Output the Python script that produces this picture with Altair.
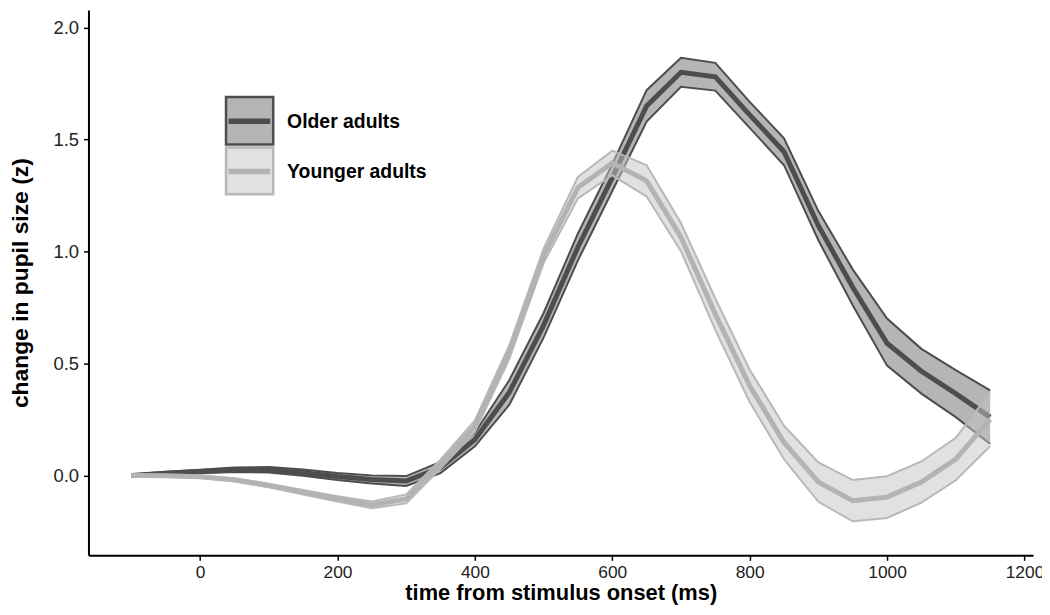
import altair as alt
import pandas as pd

# ---- data ----
time_ms = [-100, -50, 0, 50, 100, 150, 200, 250, 300, 350, 400, 450, 500,
           550, 600, 650, 700, 750, 800, 850, 900, 950, 1000, 1050, 1100, 1150]

older_mean = [0.000, 0.010, 0.017, 0.025, 0.025, 0.012, -0.005, -0.018, -0.025, 0.035,
              0.160, 0.370, 0.670, 1.020, 1.330, 1.650, 1.800, 1.780, 1.610, 1.445,
              1.115, 0.840, 0.590, 0.465, 0.365, 0.260]
older_upper = [0.004, 0.016, 0.025, 0.035, 0.037, 0.026, 0.011, 0.000, -0.003, 0.060,
               0.190, 0.425, 0.725, 1.080, 1.390, 1.720, 1.865, 1.842, 1.668, 1.505,
               1.180, 0.920, 0.700, 0.565, 0.470, 0.380]
older_lower = [-0.004, 0.004, 0.009, 0.015, 0.013, -0.002, -0.021, -0.036, -0.047, 0.010,
               0.130, 0.315, 0.615, 0.960, 1.270, 1.580, 1.735, 1.718, 1.552, 1.385,
               1.050, 0.760, 0.490, 0.365, 0.260, 0.140]

younger_mean = [0.000, -0.002, -0.006, -0.020, -0.045, -0.075, -0.105, -0.132, -0.105, 0.050,
                0.220, 0.550, 0.980, 1.285, 1.395, 1.315, 1.064, 0.720, 0.400, 0.147,
                -0.030, -0.113, -0.097, -0.030, 0.073, 0.250]
younger_upper = [0.003, 0.002, -0.001, -0.013, -0.037, -0.065, -0.093, -0.117, -0.085, 0.070,
                 0.245, 0.580, 1.012, 1.333, 1.450, 1.385, 1.127, 0.790, 0.472, 0.222,
                 0.058, -0.021, -0.004, 0.062, 0.168, 0.370]
younger_lower = [-0.003, -0.006, -0.011, -0.027, -0.053, -0.085, -0.117, -0.147, -0.125, 0.030,
                 0.195, 0.520, 0.948, 1.237, 1.340, 1.245, 1.001, 0.650, 0.328, 0.072,
                 -0.118, -0.205, -0.190, -0.122, -0.022, 0.130]

group_labels = ["Older adults", "Younger adults"]
x_ticks = [0, 200, 400, 600, 800, 1000, 1200]
y_ticks = [0.0, 0.5, 1.0, 1.5, 2.0]

FONT = "Liberation Sans"

older_df = pd.DataFrame({"t": time_ms, "m": older_mean, "lo": older_lower, "hi": older_upper})
younger_df = pd.DataFrame({"t": time_ms, "m": younger_mean, "lo": younger_lower, "hi": younger_upper})

xs = alt.Scale(domain=[-162.5, 1212.5], nice=False, zero=False)
ys = alt.Scale(domain=[-0.357, 2.078], nice=False, zero=False)

X = alt.X("t:Q", scale=xs, title="time from stimulus onset (ms)",
          axis=alt.Axis(values=x_ticks, format="d"))
Y = alt.Y("lo:Q", scale=ys, title="change in pupil size (z)",
          axis=alt.Axis(values=y_ticks, format=".1f"))


def group_layers(df, fill, fill_opacity, edge, line_color):
    base = alt.Chart(df)
    band = base.mark_area(fill=fill, fillOpacity=fill_opacity, strokeWidth=0).encode(
        x=X, y=Y, y2="hi:Q")
    lo_edge = base.mark_line(color=edge, strokeWidth=2).encode(x=X, y=alt.Y("lo:Q", scale=ys))
    hi_edge = base.mark_line(color=edge, strokeWidth=2).encode(x=X, y=alt.Y("hi:Q", scale=ys))
    mean = base.mark_line(color=line_color, strokeWidth=5).encode(x=X, y=alt.Y("m:Q", scale=ys))
    return [band, lo_edge, hi_edge, mean]


layers = []
layers += group_layers(older_df, "#b5b5b5", 1.0, "#4d4d4d", "#4d4d4d")
layers += group_layers(younger_df, "#c4c4c4", 0.5, "#b8b8b8", "#b3b3b3")

# ---- legend (drawn manually, inside plot area) ----
leg_df = pd.DataFrame({"label": group_labels})
leg_specs = [
    # label, box top, box bottom, line y, fill, fill opacity, edge, line color
    (group_labels[0], 87.5, 135.5, 112, "#b5b5b5", 1.0, "#4d4d4d", "#4d4d4d"),
    (group_labels[1], 138.5, 185.5, 162.5, "#c4c4c4", 0.5, "#b8b8b8", "#b3b3b3"),
]
for label, top, bot, ly, fill, fop, edge, lc in leg_specs:
    src = alt.Chart(leg_df).transform_filter(alt.datum.label == label)
    layers.append(src.mark_rect(fill=fill, fillOpacity=fop, stroke=edge, strokeWidth=2.5).encode(
        x=alt.value(138.5), x2=alt.value(186), y=alt.value(top), y2=alt.value(bot)))
    layers.append(src.mark_rule(color=lc, strokeWidth=5.5).encode(
        x=alt.value(141), x2=alt.value(183), y=alt.value(ly)))
    layers.append(src.mark_text(align="left", baseline="middle", font=FONT, fontSize=19.5,
                                fontWeight="bold", color="#000000").encode(
        x=alt.value(200), y=alt.value(ly + 1), text="label:N"))

chart = alt.layer(*layers).properties(
    width=951, height=549,
    autosize=alt.AutoSizeParams(type="none"),
    padding={"left": 81, "top": 0, "right": 9, "bottom": 50},
    background="white",
).configure_view(stroke=None).configure_axis(
    grid=False,
    domainColor="#000000", domainWidth=2,
    tickColor="#000000", tickWidth=1.5, tickSize=5,
    labelFont=FONT, labelFontSize=18.5, labelColor="#222222", labelPadding=5,
    titleFont=FONT, titleFontWeight="bold", titleColor="#000000",
).configure_axisX(
    titleFontSize=22, titlePadding=2, labelPadding=3, labelFontSize=17.5,
).configure_axisY(
    titleFontSize=23, titlePadding=21,
)

chart.save("out.html", embed_options={"renderer": "svg", "actions": False})
